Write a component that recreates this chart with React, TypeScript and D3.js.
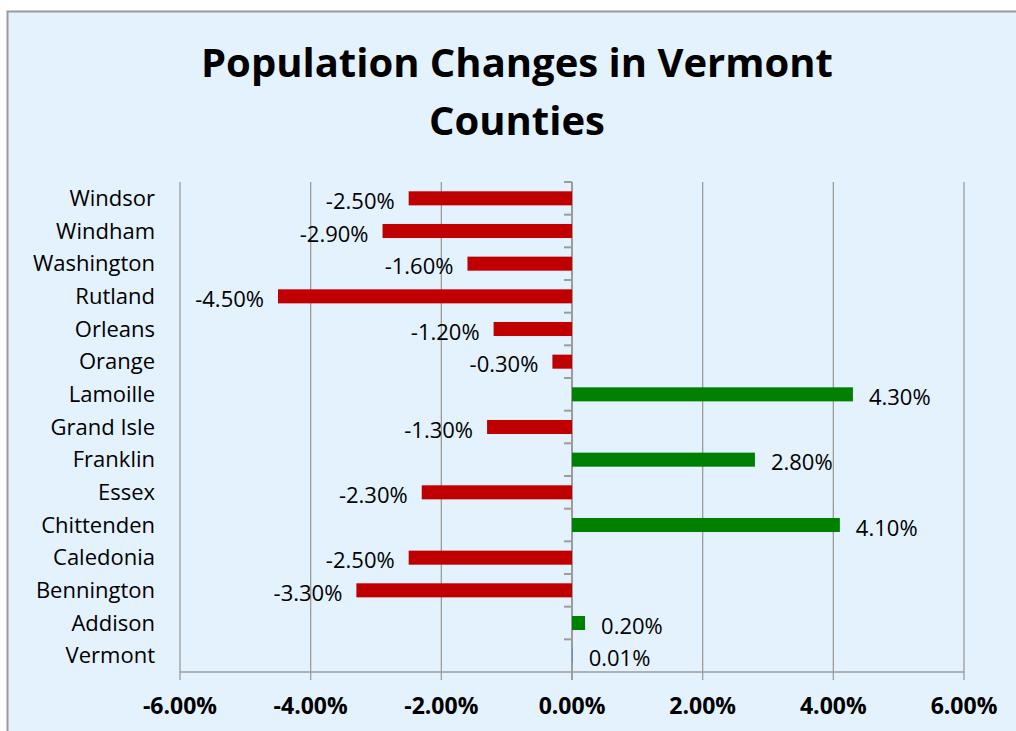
import React, { useEffect, useRef } from "react";
import * as d3 from "d3";

// categories top to bottom, as listed in the chart
const counties = [
  "Windsor",
  "Windham",
  "Washington",
  "Rutland",
  "Orleans",
  "Orange",
  "Lamoille",
  "Grand Isle",
  "Franklin",
  "Essex",
  "Chittenden",
  "Caledonia",
  "Bennington",
  "Addison",
  "Vermont",
];
const changes = [
  -2.5, -2.9, -1.6, -4.5, -1.2, -0.3, 4.3, -1.3, 2.8, -2.3, 4.1, -2.5, -3.3, 0.2, 0.01,
];
const xTicks = [-6, -4, -2, 0, 2, 4, 6];
const titleLines = ["Population Changes in Vermont", "Counties"];

const pct = (d: number) => d.toFixed(2) + "%";

const App = () => {
  const ref = useRef<SVGSVGElement>(null);

  useEffect(() => {
    document.body.style.margin = "0";
    const svg = d3.select(ref.current);
    svg.selectAll("*").remove();

    const width = 1016;
    const height = 731;
    const font = "'Open Sans', 'Noto Sans', sans-serif";
    const margin = { top: 182, right: 52, bottom: 59, left: 180 };

    // Background box
    svg
      .append("rect")
      .attr("x", 7.5)
      .attr("y", 11.5)
      .attr("width", width + 20)
      .attr("height", height + 20)
      .attr("fill", "#E3F2FD")
      .attr("stroke", "#9a9a9a")
      .attr("stroke-width", 2);

    // Title
    svg
      .append("text")
      .attr("text-anchor", "middle")
      .attr("font-family", font)
      .attr("font-weight", "bold")
      .attr("font-size", 40)
      .attr("fill", "#000")
      .selectAll("tspan")
      .data(titleLines)
      .enter()
      .append("tspan")
      .attr("x", 517)
      .attr("y", (d, i) => 77 + i * 58)
      .text((d) => d);

    const x = d3
      .scaleLinear()
      .domain([-6, 6])
      .range([margin.left, width - margin.right]);

    const y = d3
      .scaleBand()
      .domain(counties)
      .range([margin.top, height - margin.bottom])
      .paddingInner(0.57)
      .paddingOuter(0.285);

    const yOuter = d3
      .scaleBand()
      .domain(counties)
      .range([margin.top, height - margin.bottom]);

    const y0 = margin.top;
    const y1 = height - margin.bottom;

    // Vertical gridlines
    svg
      .append("g")
      .selectAll("line")
      .data(xTicks.filter((t) => t !== 0))
      .enter()
      .append("line")
      .attr("x1", (d) => x(d))
      .attr("x2", (d) => x(d))
      .attr("y1", y0)
      .attr("y2", y1 + 8)
      .attr("stroke", "#9c9c9c")
      .attr("stroke-width", 1.3);

    // x axis line
    svg
      .append("line")
      .attr("x1", x(-6))
      .attr("x2", x(6))
      .attr("y1", y1)
      .attr("y2", y1)
      .attr("stroke", "#9c9c9c")
      .attr("stroke-width", 1.5);

    // x tick labels
    svg
      .append("g")
      .selectAll("text")
      .data(xTicks)
      .enter()
      .append("text")
      .attr("x", (d) => x(d))
      .attr("y", 714)
      .attr("text-anchor", "middle")
      .attr("font-family", font)
      .attr("font-weight", "bold")
      .attr("font-size", 23)
      .attr("fill", "#000")
      .text((d) => pct(d));

    // Zero axis with ticks
    svg
      .append("line")
      .attr("x1", x(0))
      .attr("x2", x(0))
      .attr("y1", y0)
      .attr("y2", y1 + 8)
      .attr("stroke", "#9c9c9c")
      .attr("stroke-width", 2);

    svg
      .append("g")
      .selectAll("line")
      .data(counties)
      .enter()
      .append("line")
      .attr("x1", x(0) - 8)
      .attr("x2", x(0))
      .attr("y1", (d) => yOuter(d))
      .attr("y2", (d) => yOuter(d))
      .attr("stroke", "#9c9c9c")
      .attr("stroke-width", 2);

    // Bars (state total keeps the default blue)
    svg
      .append("g")
      .selectAll("rect")
      .data(changes)
      .enter()
      .append("rect")
      .attr("x", (d) => x(Math.min(0, d)))
      .attr("y", (d, i) => y(counties[i]))
      .attr("width", (d) => Math.abs(x(d) - x(0)))
      .attr("height", y.bandwidth())
      .attr("fill", (d, i) =>
        counties[i] === "Vermont" ? "#4F81BD" : d < 0 ? "#C00000" : "#008000"
      );

    // Category labels
    svg
      .append("g")
      .selectAll("text")
      .data(counties)
      .enter()
      .append("text")
      .attr("x", 155)
      .attr("y", (d) => yOuter(d) + yOuter.bandwidth() / 2)
      .attr("dy", "0.35em")
      .attr("text-anchor", "end")
      .attr("font-family", font)
      .attr("font-size", 22)
      .attr("fill", "#000")
      .text((d) => d);

    // Value labels
    svg
      .append("g")
      .selectAll("text")
      .data(changes)
      .enter()
      .append("text")
      .attr("x", (d) => (d < 0 ? x(d) - 14 : x(d) + 16))
      .attr("y", (d, i) => yOuter(counties[i]) + yOuter.bandwidth() / 2 + 3)
      .attr("dy", "0.35em")
      .attr("text-anchor", (d) => (d < 0 ? "end" : "start"))
      .attr("font-family", font)
      .attr("font-size", 22)
      .attr("fill", "#000")
      .text((d) => pct(d));
  }, []);

  return <svg ref={ref} width={1016} height={731} style={{ display: "block" }} />;
};

export default App;
